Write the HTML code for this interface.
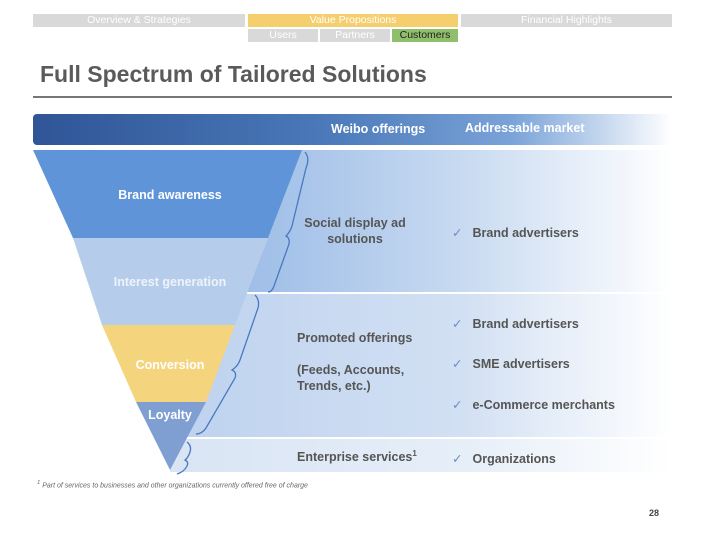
<!DOCTYPE html>
<html><head><meta charset="utf-8"><style>
body{margin:0;width:720px;height:540px;background:#fff;font-family:"Liberation Sans",sans-serif;position:relative;overflow:hidden}
.a{position:absolute}
.tab{position:absolute;height:13px;font-size:10.5px;color:#fff;text-align:center;line-height:13px}
.t{position:absolute;font-weight:bold;font-size:12.5px;color:#555}
.w{position:absolute;font-weight:bold;font-size:12.5px;color:#fff;text-align:center}
.ck{color:#6a8fc0;font-weight:normal;margin-right:10px}
</style></head><body>
<div class="tab" style="left:33px;top:14px;width:212px;background:#d9d9d9">Overview &amp; Strategies</div>
<div class="tab" style="left:248px;top:14px;width:210px;background:#f5cf6e">Value Propositions</div>
<div class="tab" style="left:461px;top:14px;width:211px;background:#d9d9d9">Financial Highlights</div>
<div class="tab" style="left:248px;top:29px;width:70px;background:#d9d9d9">Users</div>
<div class="tab" style="left:320px;top:29px;width:70px;background:#d9d9d9">Partners</div>
<div class="tab" style="left:392px;top:29px;width:66px;background:#8fbf6b;color:#222">Customers</div>
<div class="a" style="left:40px;top:61px;font-size:23px;font-weight:bold;color:#5a5a5a">Full Spectrum of Tailored Solutions</div>
<div class="a" style="left:33px;top:96px;width:639px;height:2px;background:#777"></div>
<div class="a" style="left:33px;top:114px;width:639px;height:31px;border-radius:4px;background:linear-gradient(90deg,#2f5597 0%,#4a78b8 45%,#7aa3d8 75%,#fff 100%)"></div>
<div class="a" style="left:331px;top:122px;font-size:12.5px;font-weight:bold;color:#fff">Weibo offerings</div>
<div class="a" style="left:465px;top:121px;font-size:12.5px;font-weight:bold;color:#fff">Addressable market</div>
<div class="a" style="left:150px;top:150px;width:522px;height:142px;background:linear-gradient(90deg,#8fb3e2 0%,#a9c5ea 30%,#c8daf1 60%,#fff 100%)"></div>
<div class="a" style="left:150px;top:294px;width:522px;height:143px;background:linear-gradient(90deg,#bcd1ee 0%,#d2e0f3 60%,#fff 100%)"></div>
<div class="a" style="left:150px;top:439px;width:522px;height:33px;background:linear-gradient(90deg,#d8e4f4 0%,#e6eef8 60%,#fff 100%)"></div>
<svg class="a" style="left:0;top:0" width="720" height="540">
<rect x="0" y="150" width="170" height="330" fill="#fff"/>
<polygon points="33,150 302,150 268,238 73,238" fill="#5f95d8"/>
<polygon points="73,238 268,238 235,325 102,325" fill="#b6cceb"/>
<polygon points="102,325 235,325 206,402 136,402" fill="#f5d47e"/>
<polygon points="136,402 206,402 170,470" fill="#7f9fd3"/>
<g fill="none" stroke="#4a78c0" stroke-width="1.3">
<path d="M305,152 Q310,158 306,168 L292,226 Q290,232 286,236 Q290,238 289,244 L274,286 Q272,292 268,292"/>
<path d="M255,295 Q260,300 258,308 L240,360 Q238,366 232,370 Q237,372 235,378 L206,428 Q202,434 196,434"/>
<path d="M187,442 Q192,446 190,452 Q188,458 185,460 Q189,462 187,466 Q184,472 177,474"/>
</g>
</svg>
<div class="w" style="left:70px;top:188px;width:200px">Brand awareness</div>
<div class="w" style="left:70px;top:275px;width:200px;color:#eef3fb">Interest generation</div>
<div class="w" style="left:70px;top:358px;width:200px">Conversion</div>
<div class="w" style="left:70px;top:408px;width:200px">Loyalty</div>
<div class="t" style="left:295px;top:215px;width:120px;text-align:center;line-height:16px">Social display ad<br>solutions</div>
<div class="t" style="left:297px;top:331px">Promoted offerings</div>
<div class="t" style="left:297px;top:362px;line-height:16px">(Feeds, Accounts,<br>Trends, etc.)</div>
<div class="t" style="left:297px;top:449px">Enterprise services<sup style="font-size:8px">1</sup></div>
<div class="t" style="left:452px;top:225px"><span class="ck">✓</span>Brand advertisers</div>
<div class="t" style="left:452px;top:316px"><span class="ck">✓</span>Brand advertisers</div>
<div class="t" style="left:452px;top:356px"><span class="ck">✓</span>SME advertisers</div>
<div class="t" style="left:452px;top:397px"><span class="ck">✓</span>e-Commerce merchants</div>
<div class="t" style="left:452px;top:451px"><span class="ck">✓</span>Organizations</div>
<div class="a" style="left:37px;top:480px;font-size:7px;font-style:italic;color:#666"><sup>1</sup> Part of services to businesses and other organizations currently offered free of charge</div>
<div class="a" style="left:649px;top:508px;font-size:9px;font-weight:bold;color:#444">28</div>
</body></html>
